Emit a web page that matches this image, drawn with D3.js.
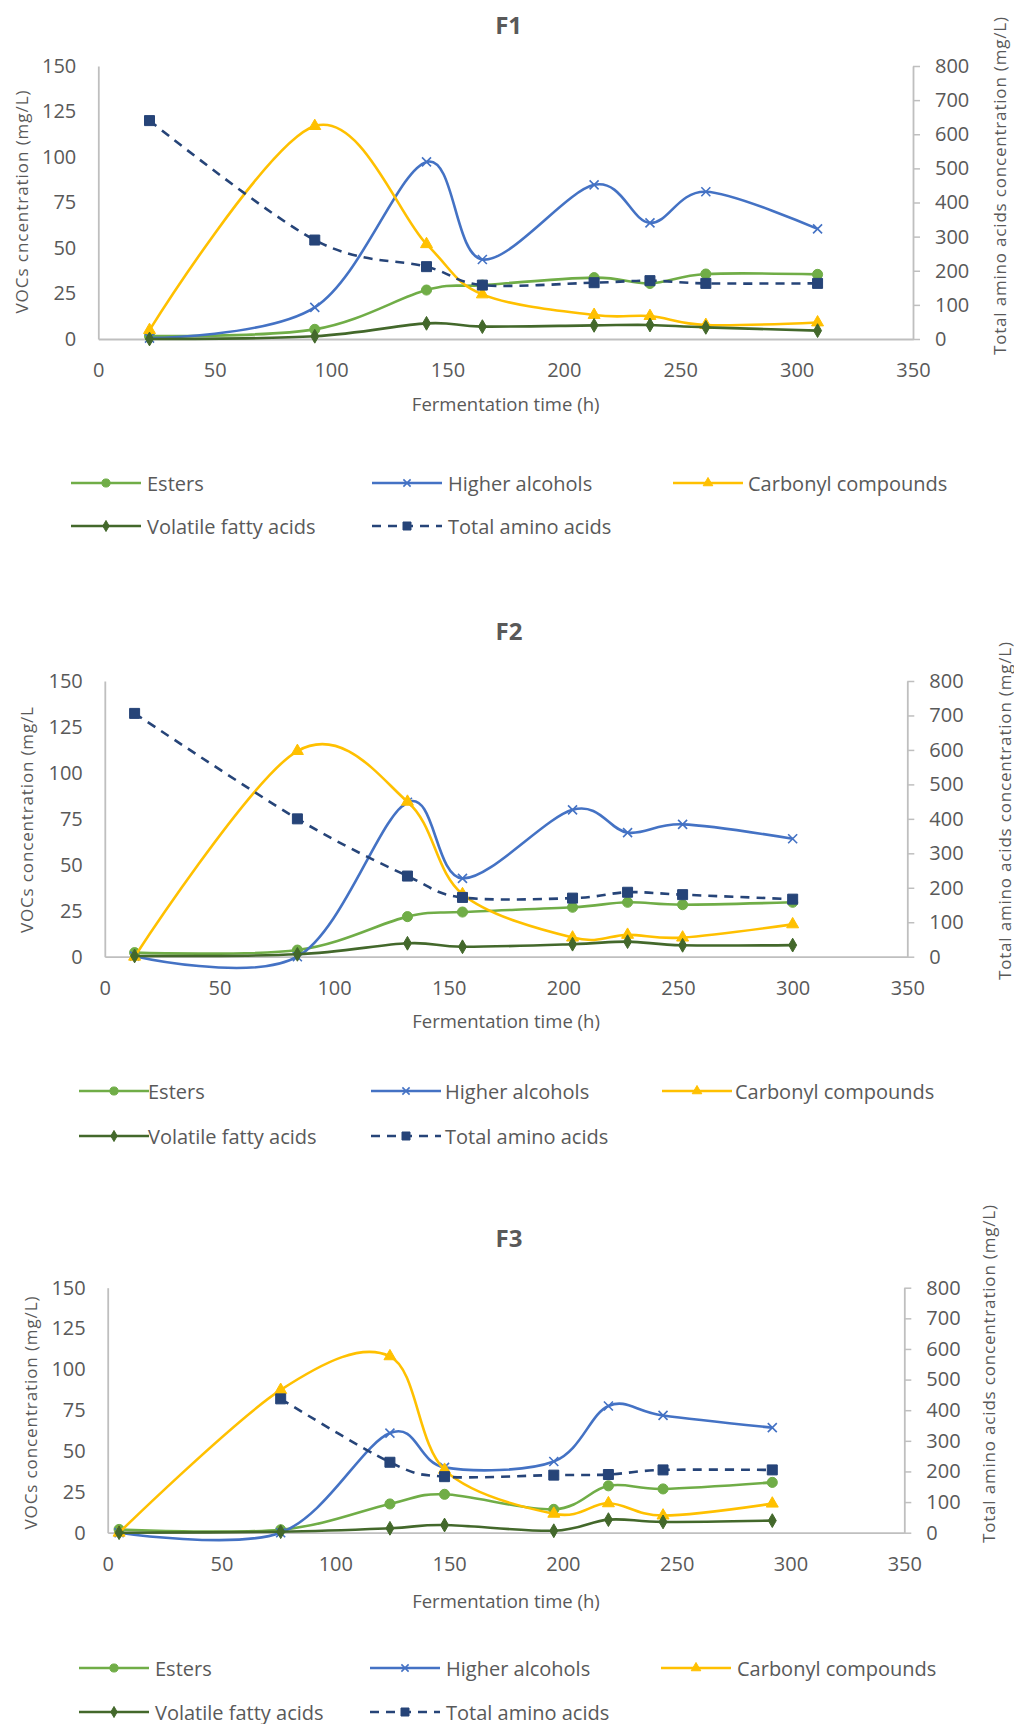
<!DOCTYPE html>
<html>
<head>
<meta charset="utf-8">
<script src="https://cdn.jsdelivr.net/npm/d3@7"></script>
<style>
  html, body { margin: 0; padding: 0; background: #ffffff; }
  svg { display: block; }
</style>
</head>
<body>
<div id="chart"></div>
<script>
// ---------------- DATA ----------------
const seriesNames = ["Esters", "Higher alcohols", "Carbonyl compounds", "Volatile fatty acids", "Total amino acids"];
const xTicks = [0, 50, 100, 150, 200, 250, 300, 350];
const yLeftTicks = [0, 25, 50, 75, 100, 125, 150];
const yRightTicks = [0, 100, 200, 300, 400, 500, 600, 700, 800];
const chartTitles = ["F1", "F2", "F3"];
const leftAxisTitles = ["VOCs cncentration (mg/L)", "VOCs concentration (mg/L", "VOCs concentration (mg/L)"];
const rightAxisTitle = "Total amino acids concentration (mg/L)";
const xAxisTitle = "Fermentation time (h)";

// F1
const f1Time   = [22, 93, 141, 165, 213, 237, 261, 309];
const f1Esters = [1.6, 5.3, 26.9, 29.6, 33.7, 30.5, 35.7, 35.5];
const f1Higher = [0.5, 17.4, 97.3, 43.7, 84.7, 63.8, 80.9, 60.5];
const f1Carbon = [4.9, 117.0, 52.1, 24.5, 13.2, 12.6, 7.7, 9.1];
const f1Fatty  = [0, 1.5, 8.6, 6.8, 7.5, 7.7, 6.4, 4.6];
const f1Amino  = [640, 290, 212, 158, 165, 171, 163, 163];

// F2
const f2Time   = [13, 84, 132, 156, 204, 228, 252, 300];
const f2Esters = [2.2, 3.6, 21.8, 24.3, 26.9, 29.6, 28.3, 29.6];
const f2Higher = [0.3, 0, 84.0, 42.6, 79.9, 67.5, 72.0, 64.2];
const f2Carbon = [0, 111.9, 84.3, 34.0, 10.4, 11.9, 10.4, 17.6];
const f2Fatty  = [0.4, 1.3, 7.3, 5.4, 6.8, 8.2, 6.2, 6.3];
const f2Amino  = [706, 400, 234, 172, 170, 187, 180, 167];

// F3
const f3Time   = [5, 76, 124, 148, 196, 220, 244, 292];
const f3Esters = [2.0, 1.8, 17.6, 23.5, 14.3, 28.7, 26.8, 30.8];
const f3Higher = [0, 0, 61.0, 40.0, 43.6, 77.6, 71.8, 64.3];
const f3Carbon = [0, 87.4, 108.0, 38.5, 11.6, 18.0, 10.5, 17.8];
const f3Fatty  = [0, 0.6, 2.7, 4.7, 1.2, 8.0, 6.6, 7.4];
const f3Amino  = [null, 437, 230, 183, 188, 190, 205, 205];

// ---------------- STYLE / LAYOUT ----------------
const W = 1014, H = 1724;
const styles = [
  { color: "#70AD47", symbol: "circle",   axis: "left" },
  { color: "#4472C4", symbol: "x",        axis: "left" },
  { color: "#FFC000", symbol: "triangle", axis: "left" },
  { color: "#43682B", symbol: "diamond",  axis: "left" },
  { color: "#264478", symbol: "square",   axis: "right", dash: "9,7" }
];
const textColor = "#595959";
const axisColor = "#bfbfbf";
const tickFont = "'Open Sans', 'Noto Sans', sans-serif";

const charts = [
  { time: f1Time, values: [f1Esters, f1Higher, f1Carbon, f1Fatty, f1Amino],
    x0: 98.3, x1: 913, yTop: 66, yBot: 339, titleY: 24, xTitleY: 403,
    leftLabelX: 21, leftLabelY: 202, leftLabelLen: 223, rightLabelX: 999, rightLabelY: 186,
    legendY: [483, 526], legendLineX: [71, 372, 673], legendTextX: [147, 448, 748] },
  { time: f2Time, values: [f2Esters, f2Higher, f2Carbon, f2Fatty, f2Amino],
    x0: 104.8, x1: 907.3, yTop: 681, yBot: 956.7, titleY: 630, xTitleY: 1020,
    leftLabelX: 26, leftLabelY: 820, leftLabelLen: 226, rightLabelX: 1004, rightLabelY: 811,
    legendY: [1091, 1136], legendLineX: [79, 371, 662], legendTextX: [148, 445, 735] },
  { time: f3Time, values: [f3Esters, f3Higher, f3Carbon, f3Fatty, f3Amino],
    x0: 107.7, x1: 904.3, yTop: 1287.7, yBot: 1532.7, titleY: 1237, xTitleY: 1600,
    leftLabelX: 30, leftLabelY: 1413, leftLabelLen: 233, rightLabelX: 988, rightLabelY: 1374,
    legendY: [1668, 1712], legendLineX: [79, 370, 661], legendTextX: [155, 446, 737] }
];
const rightLabelLen = 338;

const svg = d3.select("#chart").append("svg")
  .attr("width", W).attr("height", H)
  .attr("viewBox", `0 0 ${W} ${H}`);
svg.append("rect").attr("width", W).attr("height", H).attr("fill", "#ffffff");

function markerPath(sym, scale) {
  const s = scale || 1;
  switch (sym) {
    case "circle":   return d3.symbol(d3.symbolCircle, 80 * s * s)();
    case "triangle": return d3.symbol(d3.symbolTriangle, 62 * s * s)();
    case "diamond":  return d3.symbol(d3.symbolDiamond, 55 * s * s)();
    case "square":   return d3.symbol(d3.symbolSquare, 100 * s * s)();
    case "x": {
      const r = 4.5 * s;
      return `M${-r},${-r}L${r},${r}M${-r},${r}L${r},${-r}`;
    }
  }
}

function drawMarker(g, sym, color, scale) {
  const p = g.append("path").attr("d", markerPath(sym, scale));
  if (sym === "x") {
    p.attr("fill", "none").attr("stroke", color).attr("stroke-width", 1.6);
  } else {
    p.attr("fill", color).attr("stroke", color).attr("stroke-width", 1);
  }
  return p;
}

charts.forEach((c, ci) => {
  const g = svg.append("g");
  const x = d3.scaleLinear().domain([0, 350]).range([c.x0, c.x1]);
  const yL = d3.scaleLinear().domain([0, 150]).range([c.yBot, c.yTop]);
  const yR = d3.scaleLinear().domain([0, 800]).range([c.yBot, c.yTop]);

  // title
  g.append("text").attr("x", (c.x0 + c.x1) / 2 + 3).attr("y", c.titleY)
    .attr("text-anchor", "middle").attr("dominant-baseline", "central")
    .attr("font-family", tickFont).attr("font-weight", "bold")
    .attr("font-size", 24).attr("fill", textColor).text(chartTitles[ci]);

  // left axis
  const la = g.append("g").attr("transform", `translate(${c.x0},0)`)
    .call(d3.axisLeft(yL).tickValues(yLeftTicks).tickSize(0).tickPadding(22).tickFormat(d3.format("d")));
  // right axis
  const ra = g.append("g").attr("transform", `translate(${c.x1},0)`)
    .call(d3.axisRight(yR).tickValues(yRightTicks).tickSizeInner(7).tickSizeOuter(0).tickPadding(15).tickFormat(d3.format("d")));
  // bottom axis
  const ba = g.append("g").attr("transform", `translate(0,${c.yBot})`)
    .call(d3.axisBottom(x).tickValues(xTicks).tickSize(0).tickPadding(24).tickFormat(d3.format("d")));

  [la, ra, ba].forEach(a => {
    a.select(".domain").attr("stroke", axisColor).attr("stroke-width", 1.8);
    a.selectAll(".tick line").attr("stroke", axisColor).attr("stroke-width", 1.5);
    a.selectAll(".tick text").attr("fill", textColor)
      .attr("font-family", tickFont).attr("font-size", 20);
  });

  // axis titles
  g.append("text").attr("transform", `translate(${c.leftLabelX},${c.leftLabelY}) rotate(-90)`)
    .attr("text-anchor", "middle").attr("dominant-baseline", "central")
    .attr("font-family", tickFont).attr("font-size", 17).attr("fill", textColor)
    .attr("textLength", c.leftLabelLen).attr("lengthAdjust", "spacing")
    .text(leftAxisTitles[ci]);
  g.append("text").attr("transform", `translate(${c.rightLabelX},${c.rightLabelY}) rotate(-90)`)
    .attr("text-anchor", "middle").attr("dominant-baseline", "central")
    .attr("font-family", tickFont).attr("font-size", 17).attr("fill", textColor)
    .attr("textLength", rightLabelLen).attr("lengthAdjust", "spacing")
    .text(rightAxisTitle);
  g.append("text").attr("x", (c.x0 + c.x1) / 2).attr("y", c.xTitleY)
    .attr("text-anchor", "middle").attr("dominant-baseline", "central")
    .attr("font-family", tickFont).attr("font-size", 18.5).attr("fill", textColor)
    .text(xAxisTitle);

  // series
  const plot = g.append("g");
  styles.forEach((st, si) => {
    const y = st.axis === "right" ? yR : yL;
    const pts = c.time.map((t, i) => ({ t, v: c.values[si][i] })).filter(d => d.v != null);
    const line = d3.line().x(d => x(d.t)).y(d => y(d.v)).curve(d3.curveCardinal.tension(0));
    plot.append("path").attr("d", line(pts)).attr("fill", "none")
      .attr("stroke", st.color).attr("stroke-width", 2.6)
      .attr("stroke-dasharray", st.dash || null)
      .attr("stroke-linejoin", "round");
    pts.forEach(d => {
      const mg = plot.append("g").attr("transform", `translate(${x(d.t)},${y(d.v)})`);
      drawMarker(mg, st.symbol, st.color, 1);
    });
  });

  // legend
  const lg = g.append("g");
  seriesNames.forEach((name, si) => {
    const row = si < 3 ? 0 : 1;
    const col = si < 3 ? si : si - 3;
    const ly = c.legendY[row];
    const lx = c.legendLineX[col];
    const st = styles[si];
    lg.append("line").attr("x1", lx).attr("x2", lx + 70).attr("y1", ly).attr("y2", ly)
      .attr("stroke", st.color).attr("stroke-width", 2.6)
      .attr("stroke-dasharray", st.dash || null);
    const mg = lg.append("g").attr("transform", `translate(${lx + 35},${ly})`);
    drawMarker(mg, st.symbol, st.color, 0.8);
    lg.append("text").attr("x", c.legendTextX[col]).attr("y", ly)
      .attr("dominant-baseline", "central")
      .attr("font-family", tickFont).attr("font-size", 20).attr("fill", textColor)
      .text(name);
  });
});
</script>
</body>
</html>
